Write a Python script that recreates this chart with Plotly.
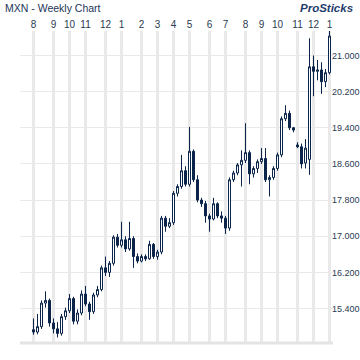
import pandas as pd
import plotly.graph_objects as go

# ---- data (weekly bars) ----
opens = [14.93, 14.88, 15.00, 15.52, 15.58, 15.08, 14.95, 14.85, 15.22, 15.35,
         15.62, 15.12, 15.30, 15.72, 15.50, 15.33, 15.70, 15.82, 16.30, 16.20,
         16.40, 16.98, 16.80, 16.92, 16.72, 16.95, 16.55, 16.45, 16.55, 16.50,
         16.82, 16.55, 16.65, 17.40, 17.22, 17.30, 17.95, 18.10, 18.45, 18.15,
         18.88, 18.25, 17.80, 17.72, 17.45, 17.38, 17.72, 17.45, 17.40, 17.18,
         18.25, 18.40, 18.58, 18.68, 18.85, 18.38, 18.50, 18.65, 18.72, 18.25,
         18.30, 18.50, 18.80, 19.60, 19.72, 19.40, 19.02, 18.98, 18.62, 18.70,
         20.75, 20.65, 20.68, 20.42, 20.62]
highs = [15.18, 15.28, 15.58, 15.78, 15.62, 15.18, 15.10, 15.28, 15.42, 15.72,
         15.66, 15.38, 15.80, 15.90, 15.55, 15.75, 15.90, 16.35, 16.55, 16.45,
         17.02, 17.05, 17.32, 17.00, 17.32, 17.00, 16.62, 16.60, 16.60, 16.90,
         16.85, 16.70, 17.45, 17.45, 17.40, 18.00, 18.15, 18.80, 18.55, 19.42,
         18.92, 18.35, 17.85, 17.78, 17.50, 17.85, 17.75, 17.55, 17.45, 18.30,
         18.45, 18.62, 18.90, 19.50, 18.90, 18.55, 18.70, 18.95, 18.95, 18.35,
         18.55, 18.85, 19.65, 19.90, 19.78, 19.42, 19.08, 19.05, 19.15, 21.38,
         21.00, 20.90, 20.85, 20.70, 21.55]
lows = [14.82, 14.83, 14.95, 15.42, 15.00, 14.85, 14.76, 14.80, 15.15, 15.30,
        15.05, 15.05, 15.25, 15.45, 15.15, 15.28, 15.65, 15.78, 16.12, 16.10,
        16.35, 16.75, 16.75, 16.65, 16.68, 16.30, 16.40, 16.42, 16.45, 16.48,
        16.50, 16.48, 16.60, 17.10, 17.18, 17.25, 17.88, 18.05, 18.10, 18.10,
        18.20, 17.75, 17.65, 17.30, 17.10, 17.35, 17.40, 17.30, 17.05, 17.12,
        18.20, 18.35, 18.10, 18.62, 18.15, 18.30, 18.40, 18.60, 18.20, 17.88,
        18.25, 18.45, 18.75, 19.55, 19.35, 19.30, 18.95, 18.50, 18.50, 18.36,
        20.10, 20.45, 20.15, 20.30, 20.58]
closes = [14.88, 15.00, 15.52, 15.58, 15.08, 14.95, 14.85, 15.22, 15.35, 15.62,
          15.12, 15.30, 15.72, 15.50, 15.33, 15.70, 15.82, 16.30, 16.20, 16.40,
          16.98, 16.80, 16.92, 16.72, 16.95, 16.55, 16.45, 16.55, 16.50, 16.82,
          16.55, 16.65, 17.40, 17.22, 17.30, 17.95, 18.10, 18.45, 18.15, 18.88,
          18.25, 17.80, 17.72, 17.45, 17.38, 17.72, 17.45, 17.40, 17.18, 18.25,
          18.40, 18.58, 18.68, 18.85, 18.38, 18.50, 18.65, 18.72, 18.25, 18.30,
          18.50, 18.80, 19.60, 19.72, 19.40, 19.35, 18.98, 18.60, 18.95, 20.75,
          20.65, 20.68, 20.42, 20.62, 21.43]
first_week = "2015-08-02"
month_ticks = ["2015-08-02", "2015-09-06", "2015-10-04", "2015-11-01", "2015-12-06",
               "2016-01-03", "2016-02-07", "2016-03-06", "2016-04-03", "2016-05-01",
               "2016-06-05", "2016-07-03", "2016-08-07", "2016-09-04", "2016-10-02",
               "2016-11-06", "2016-12-04", "2017-01-01"]
month_labels = ["8", "9", "10", "11", "12", "1", "2", "3", "4", "5", "6", "7",
                "8", "9", "10", "11", "12", "1"]

dates = pd.date_range(first_week, periods=len(closes), freq="W-SUN")

NAVY = "#0a2549"
GRID = "#e9e9e9"
TXT = "#2a3a52"
FONT = "Liberation Sans, Arial, sans-serif"

fig = go.Figure(go.Candlestick(
    x=dates, open=opens, high=highs, low=lows, close=closes,
    increasing=dict(line=dict(color=NAVY, width=1), fillcolor="white"),
    decreasing=dict(line=dict(color=NAVY, width=1), fillcolor=NAVY),
    whiskerwidth=0, hoverinfo="skip",
))

week = pd.Timedelta(days=7)
x_lo = dates[0] - 3.375 * week
x_hi = dates[-1] + 0.875 * week

fig.update_layout(
    width=360, height=360,
    margin=dict(l=20, r=27, t=31, b=17, pad=0),
    paper_bgcolor="white", plot_bgcolor="white",
    showlegend=False,
    boxgap=0.5, boxgroupgap=0,
    font=dict(family=FONT, color=TXT),
    title=dict(text="MXN - Weekly Chart", x=5/360, xanchor="left", xref="container",
               y=1 - 8/360, yanchor="middle", yref="container",
               font=dict(family=FONT, size=10.5, color="#1d3557")),
    xaxis=dict(type="date", side="top", range=[x_lo, x_hi],
               tickmode="array", tickvals=month_ticks, ticktext=month_labels,
               tickfont=dict(size=10, color=TXT),
               showgrid=True, gridcolor=GRID, gridwidth=3,
               ticks="", ticklen=0, showline=False, zeroline=False,
               rangeslider=dict(visible=False), fixedrange=True),
    yaxis=dict(side="right", range=[14.637, 21.542],
               tick0=15.4, dtick=0.8, tickformat=".3f",
               tickfont=dict(size=9, color=TXT), ticklabelstandoff=-2,
               showgrid=True, gridcolor=GRID, gridwidth=1,
               ticks="", ticklen=0, showline=False, zeroline=False, automargin=False),
    annotations=[dict(text="<b><i>ProSticks</i></b>", xref="paper", yref="paper",
                      x=(355 - 20) / 313, y=(343 - 8) / 312,
                      xanchor="right", yanchor="middle", showarrow=False,
                      font=dict(family=FONT, size=11.5, color="#1f3d6b"))],
    shapes=[dict(type="line", xref="paper", yref="paper", x0=0, x1=1, y0=0, y1=0,
                 line=dict(color="#e4e4e4", width=3))],
)
fig.update_xaxes(automargin=False)

fig.write_html("out.html", config={"displayModeBar": False},
               post_script="document.body.style.margin='0';")
